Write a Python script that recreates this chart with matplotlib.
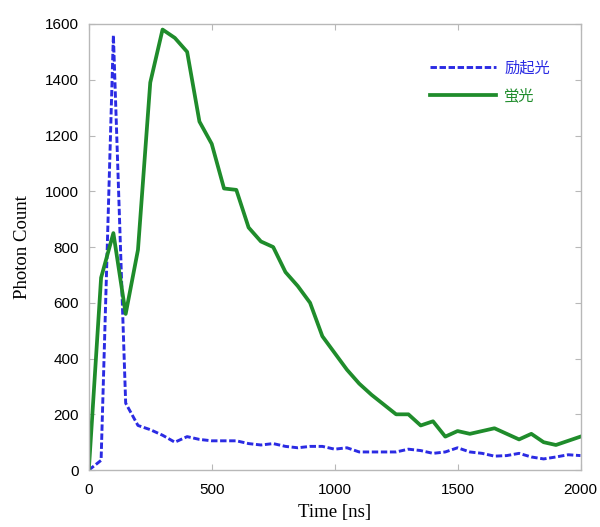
import numpy as np
import matplotlib
matplotlib.use('Agg')
import matplotlib.pyplot as plt

# time axis, 50 ns steps
time_ns = np.arange(0, 2001, 50)

excitation = [0, 35, 1560, 240, 160, 145, 125, 100, 120, 110,
              105, 105, 105, 95, 90, 95, 85, 80, 85, 85,
              75, 80, 65, 65, 65, 65, 75, 70, 60, 65,
              80, 65, 60, 50, 52, 60, 47, 40, 47, 55,
              52]

fluorescence = [0, 690, 850, 560, 790, 1390, 1580, 1550, 1500, 1250,
                1170, 1010, 1005, 870, 820, 800, 710, 660, 600, 480,
                420, 360, 310, 270, 235, 200, 200, 160, 175, 120,
                140, 130, 140, 150, 130, 110, 130, 100, 90, 105,
                120]

blue = '#2b2be3'
green = '#1f8c2b'
frame = '#b8b8b8'

fig = plt.figure(figsize=(6.0, 5.27), dpi=100)
ax = fig.add_axes([0.148, 0.108, 0.8195, 0.8465])

ax.plot(time_ns, excitation, color=blue, lw=2.1, dashes=(2.2, 0.9), label='励起光')
ax.plot(time_ns, fluorescence, color=green, lw=2.7, label='蛍光')

ax.set_xlim(0, 2000)
ax.set_ylim(0, 1600)
ax.set_xticks([0, 500, 1000, 1500, 2000])
ax.set_yticks(np.arange(0, 1601, 200))

for s in ax.spines.values():
    s.set_color(frame)
    s.set_linewidth(1.0)

ax.tick_params(direction='in', length=4, color=frame, top=True, right=True,
               labelsize=11)
ax.tick_params(axis='x', pad=9)
ax.tick_params(axis='y', pad=7)
for lab in ax.get_xticklabels() + ax.get_yticklabels():
    lab.set_family('Liberation Sans')

ax.set_xlabel('Time [ns]', family='Liberation Serif', fontsize=13.5, labelpad=5)
ax.set_ylabel('Photon Count', family='Liberation Serif', fontsize=13.5, labelpad=10)

leg = ax.legend(loc='upper right', bbox_to_anchor=(0.966, 0.952), frameon=False,
                prop={'family': ['Noto Sans CJK JP', 'DejaVu Sans'], 'size': 11},
                handlelength=4.3, handletextpad=0.55, labelspacing=0.72)
for txt, c in zip(leg.get_texts(), [blue, green]):
    txt.set_color(c)

fig.savefig('out.png', dpi=100)
